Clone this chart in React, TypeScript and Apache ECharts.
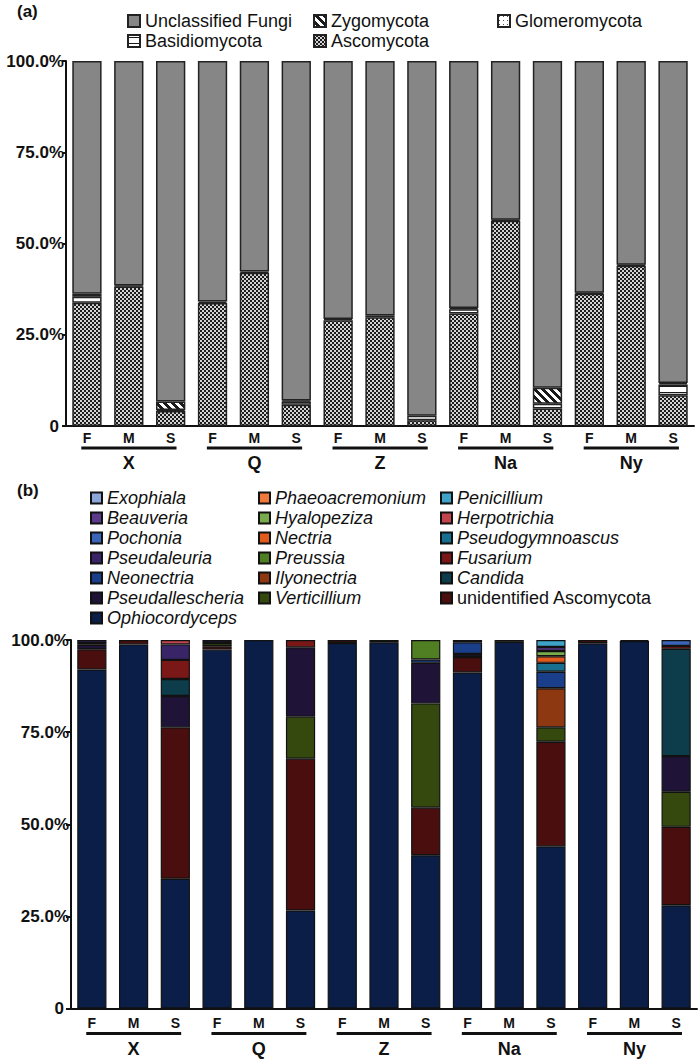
import { useEffect, useRef } from 'react';
import * as echarts from 'echarts';

// ---------- shared axes ----------
const samples = ['F', 'M', 'S', 'F', 'M', 'S', 'F', 'M', 'S', 'F', 'M', 'S', 'F', 'M', 'S'];
const groups = ['X', 'Q', 'Z', 'Na', 'Ny'];
const groupSize = 3;
const yTickValues = [0, 25, 50, 75, 100];
const yTickLabels = ['0', '25.0%', '50.0%', '75.0%', '100.0%'];

// ---------- panel (a): phyla (%) ----------
const ascomycota = [33.8, 38.2, 4.1, 33.7, 42.0, 5.8, 29.0, 29.8, 1.6, 30.8, 56.2, 4.8, 36.2, 43.9, 8.4];
const basidiomycota = [1.6, 0.3, 0.3, 0.4, 0.3, 0.9, 0.3, 0.5, 1.2, 1.2, 0.3, 1.3, 0.3, 0.3, 3.0];
const glomeromycota = [0, 0, 0, 0, 0, 0, 0, 0, 0, 0, 0, 0, 0, 0, 0];
const zygomycota = [0.8, 0, 2.3, 0, 0, 0.3, 0, 0, 0, 0.3, 0, 4.4, 0, 0, 0.4];
const unclassifiedFungi = [63.8, 61.5, 93.3, 65.9, 57.7, 93.0, 70.7, 69.7, 97.2, 67.7, 43.5, 89.5, 63.5, 55.8, 88.2];

// ---------- panel (b): genera (%) ----------
const ophiocordyceps = [92.0, 98.8, 35.2, 97.4, 100, 26.6, 99.2, 99.4, 41.6, 91.2, 99.5, 44.0, 99.1, 99.7, 28.0];
const unidentifiedAscomycota = [5.5, 1.2, 41.1, 0.9, 0, 41.2, 0.8, 0.6, 12.9, 4.2, 0.5, 28.4, 0.9, 0.3, 21.3];
const verticillium = [0, 0, 0, 0.9, 0, 11.4, 0, 0, 28.3, 0, 0, 3.9, 0, 0, 9.5];
const pseudallescheria = [1.2, 0, 8.5, 0.8, 0, 18.8, 0, 0, 11.0, 0.8, 0, 0, 0, 0, 9.7];
const candida = [0, 0, 4.6, 0, 0, 0, 0, 0, 0, 0, 0, 0, 0, 0, 29.1];
const ilyonectria = [0, 0, 0, 0, 0, 0, 0, 0, 0, 0, 0, 10.6, 0, 0, 0];
const neonectria = [0, 0, 0, 0, 0, 0, 0, 0, 0.9, 3.2, 0, 4.5, 0, 0, 0];
const fusarium = [0.5, 0, 5.2, 0, 0, 2.0, 0, 0, 0, 0.6, 0, 0, 0, 0, 0.8];
const preussia = [0, 0, 0, 0, 0, 0, 0, 0, 5.3, 0, 0, 0, 0, 0, 0];
const pseudaleuria = [0.8, 0, 4.2, 0, 0, 0, 0, 0, 0, 0, 0, 0, 0, 0, 0];
const pseudogymnoascus = [0, 0, 0, 0, 0, 0, 0, 0, 0, 0, 0, 2.4, 0, 0, 0];
const nectria = [0, 0, 0, 0, 0, 0, 0, 0, 0, 0, 0, 1.8, 0, 0, 0];
const pochonia = [0, 0, 0, 0, 0, 0, 0, 0, 0, 0, 0, 0, 0, 0, 1.6];
const herpotrichia = [0, 0, 1.2, 0, 0, 0, 0, 0, 0, 0, 0, 0, 0, 0, 0];
const hyalopeziza = [0, 0, 0, 0, 0, 0, 0, 0, 0, 0, 0, 1.4, 0, 0, 0];
const beauveria = [0, 0, 0, 0, 0, 0, 0, 0, 0, 0, 0, 1.1, 0, 0, 0];
const penicillium = [0, 0, 0, 0, 0, 0, 0, 0, 0, 0, 0, 1.9, 0, 0, 0];
const phaeoacremonium = [0, 0, 0, 0, 0, 0, 0, 0, 0, 0, 0, 0, 0, 0, 0];
const exophiala = [0, 0, 0, 0, 0, 0, 0, 0, 0, 0, 0, 0, 0, 0, 0];

// stacking order, bottom to top
const generaStack: [string, number[], string][] = [
  ['Ophiocordyceps', ophiocordyceps, '#0b1e48'],
  ['unidentified Ascomycota', unidentifiedAscomycota, '#4a0e0e'],
  ['Verticillium', verticillium, '#35490f'],
  ['Pseudallescheria', pseudallescheria, '#1f1438'],
  ['Candida', candida, '#0d3d4a'],
  ['Ilyonectria', ilyonectria, '#8e3812'],
  ['Neonectria', neonectria, '#1b3e8a'],
  ['Fusarium', fusarium, '#7a1717'],
  ['Preussia', preussia, '#4f7f22'],
  ['Pseudaleuria', pseudaleuria, '#3a2468'],
  ['Pseudogymnoascus', pseudogymnoascus, '#17708f'],
  ['Nectria', nectria, '#e35b1c'],
  ['Pochonia', pochonia, '#3a64b8'],
  ['Herpotrichia', herpotrichia, '#c2454d'],
  ['Hyalopeziza', hyalopeziza, '#79aa4c'],
  ['Beauveria', beauveria, '#5b3a8c'],
  ['Penicillium', penicillium, '#3fa3c8'],
  ['Phaeoacremonium', phaeoacremonium, '#f0783a'],
  ['Exophiala', exophiala, '#8ca6d9'],
];

const legendBCol1 = ['Exophiala', 'Beauveria', 'Pochonia', 'Pseudaleuria', 'Neonectria', 'Pseudallescheria', 'Ophiocordyceps'];
const legendBCol2 = ['Phaeoacremonium', 'Hyalopeziza', 'Nectria', 'Preussia', 'Ilyonectria', 'Verticillium'];
const legendBCol3 = ['Penicillium', 'Herpotrichia', 'Pseudogymnoascus', 'Fusarium', 'Candida', 'unidentified Ascomycota'];

const FONT = '"Liberation Sans", Arial, Helvetica, sans-serif';

function makePattern(w: number, h: number, draw: (ctx: CanvasRenderingContext2D) => void): any {
  const c = document.createElement('canvas');
  c.width = w;
  c.height = h;
  const ctx = c.getContext('2d') as CanvasRenderingContext2D;
  draw(ctx);
  return { image: c, repeat: 'repeat', imageWidth: w, imageHeight: h };
}

function nz(arr: number[]) {
  return arr.map((v) => (v === 0 ? '-' : v));
}

export default function App() {
  const ref = useRef<HTMLDivElement>(null);

  useEffect(() => {
    if (!ref.current) return;
    const chart = echarts.init(ref.current, null, { renderer: 'svg' });

    const ascoPattern = makePattern(4, 4, (ctx) => {
      ctx.fillStyle = '#1c1c1c';
      ctx.fillRect(0, 0, 4, 4);
      ctx.fillStyle = '#d4d4d4';
      ctx.fillRect(0, 0, 2, 2);
      ctx.fillRect(2, 2, 2, 2);
    });
    const zygoPattern = makePattern(8, 8, (ctx) => {
      ctx.fillStyle = '#ffffff';
      ctx.fillRect(0, 0, 8, 8);
      ctx.fillStyle = '#1a1a1a';
      for (let x = 0; x < 8; x++) {
        for (let y = 0; y < 8; y++) {
          if ((((x - y) % 8) + 8) % 8 < 4) ctx.fillRect(x, y, 1, 1);
        }
      }
    });
    const basidioPattern = makePattern(8, 6, (ctx) => {
      ctx.fillStyle = '#ffffff';
      ctx.fillRect(0, 0, 8, 6);
      ctx.fillStyle = '#1a1a1a';
      ctx.fillRect(0, 2, 8, 1);
    });
    const glomeroPattern = makePattern(4, 4, (ctx) => {
      ctx.fillStyle = '#ffffff';
      ctx.fillRect(0, 0, 4, 4);
      ctx.fillStyle = '#555555';
      ctx.fillRect(1, 1, 1, 1);
    });

    const phyla: [string, number[], any][] = [
      ['Ascomycota', ascomycota, ascoPattern],
      ['Basidiomycota', basidiomycota, basidioPattern],
      ['Glomeromycota', glomeromycota, glomeroPattern],
      ['Zygomycota', zygomycota, zygoPattern],
      ['Unclassified Fungi', unclassifiedFungi, '#868686'],
    ];

    const yAxis = (gridIndex: number, tickLen: number, margin: number) => ({
      type: 'value',
      gridIndex,
      min: 0,
      max: 100,
      interval: 25,
      axisLine: { show: true, lineStyle: { color: '#111', width: 2 } },
      axisTick: { show: true, length: tickLen, lineStyle: { color: '#111', width: 2 } },
      splitLine: { show: false },
      axisLabel: {
        margin,
        color: '#111',
        fontSize: 17,
        fontWeight: 'bold',
        fontFamily: FONT,
        formatter: (v: number) => {
          const i = yTickValues.indexOf(v);
          const t = i >= 0 ? yTickLabels[i] : '';
          return v === 0 ? '{z|' + t + '}' : t;
        },
        rich: { z: { fontSize: 17, fontWeight: 'bold', fontFamily: FONT, color: '#111', padding: [0, 5, 0, 0] } },
      },
    });

    const xMain = (gridIndex: number, margin: number) => ({
      type: 'category',
      gridIndex,
      data: samples,
      position: 'bottom',
      axisLine: { show: true, lineStyle: { color: '#111', width: 2 } },
      axisTick: { show: false },
      axisLabel: { interval: 0, margin, color: '#111', fontSize: 14, fontWeight: 'bold', fontFamily: FONT },
    });
    const xGroup = (gridIndex: number, margin: number) => ({
      type: 'category',
      gridIndex,
      data: groups,
      position: 'bottom',
      axisLine: { show: false, onZero: false },
      axisTick: { show: false },
      axisLabel: { interval: 0, margin, color: '#111', fontSize: 18, fontWeight: 'bold', fontFamily: FONT },
    });

    const bracketSeries = (xAxisIndex: number, yAxisIndex: number, off: number) => ({
      type: 'custom',
      xAxisIndex,
      yAxisIndex,
      silent: true,
      clip: false,
      z: 10,
      data: groups.map((_, i) => [i * groupSize, 0, i * groupSize + groupSize - 1]),
      renderItem: (params: any, api: any) => {
        const p0 = api.coord([api.value(0), 0]);
        const p1 = api.coord([api.value(2), 0]);
        const bw = api.size([1, 0])[0];
        const y = p0[1] + off;
        return {
          type: 'line',
          shape: { x1: p0[0] - 0.135 * bw, y1: y, x2: p1[0] + 0.14 * bw, y2: y },
          style: { stroke: '#111', lineWidth: 3 },
        };
      },
    });

    const legendText = (fontStyle: string) => ({
      color: '#111',
      fontSize: 18,
      fontFamily: FONT,
      fontStyle,
      lineHeight: 20,
    });

    const legendA = (left: number, names: string[]) => ({
      orient: 'vertical',
      left,
      top: 11,
      padding: 0,
      itemGap: 0,
      itemWidth: 12,
      itemHeight: 12,
      icon: 'rect',
      selectedMode: false,
      data: names,
      textStyle: legendText('normal'),
    });
    const legendB = (left: number, names: string[]) => ({
      orient: 'vertical',
      left,
      top: 488,
      padding: 0,
      itemGap: 0,
      itemWidth: 11,
      itemHeight: 11,
      icon: 'rect',
      selectedMode: false,
      data: names.map((n) =>
        n === 'unidentified Ascomycota' ? { name: n, textStyle: { fontStyle: 'normal' } } : { name: n }
      ),
      textStyle: legendText('italic'),
    });

    const option: any = {
      animation: false,
      backgroundColor: '#ffffff',
      textStyle: { fontFamily: FONT },
      title: [
        { text: '(a)', left: 17, top: 3, padding: 0, textStyle: { fontSize: 17, fontWeight: 'bold', color: '#111', fontFamily: FONT } },
        { text: '(b)', left: 17, top: 482, padding: 0, textStyle: { fontSize: 17, fontWeight: 'bold', color: '#111', fontFamily: FONT } },
      ],
      legend: [
        legendA(127, ['Unclassified Fungi', 'Basidiomycota']),
        legendA(313, ['Zygomycota', 'Ascomycota']),
        legendA(497, ['Glomeromycota']),
        legendB(90, legendBCol1),
        legendB(258, legendBCol2),
        legendB(440, legendBCol3),
      ],
      grid: [
        { left: 66, right: 6, top: 61, height: 365 },
        { left: 71, right: 3, top: 640, height: 368.5 },
      ],
      xAxis: [xMain(0, 5), xGroup(0, 28), xMain(1, 7), xGroup(1, 31)],
      yAxis: [yAxis(0, 4, 2), yAxis(1, 5, 2)],
      series: [
        ...phyla.map(([name, values, color]) => ({
          name,
          type: 'bar',
          stack: 'phyla',
          xAxisIndex: 0,
          yAxisIndex: 0,
          barWidth: '70%',
          data: nz(values),
          itemStyle: { color, borderColor: '#222', borderWidth: 1.5 },
        })),
        bracketSeries(0, 0, 22),
        ...generaStack.map(([name, values, color]) => ({
          name,
          type: 'bar',
          stack: 'genera',
          xAxisIndex: 2,
          yAxisIndex: 1,
          barWidth: '70%',
          data: nz(values),
          itemStyle: { color, borderColor: '#111', borderWidth: 1.2 },
        })),
        bracketSeries(2, 1, 25),
      ],
    };

    chart.setOption(option);
    return () => {
      chart.dispose();
    };
  }, []);

  return (
    <div
      ref={ref}
      style={{ position: 'absolute', left: 0, top: 0, width: 700, height: 1062, background: '#fff' }}
    />
  );
}
